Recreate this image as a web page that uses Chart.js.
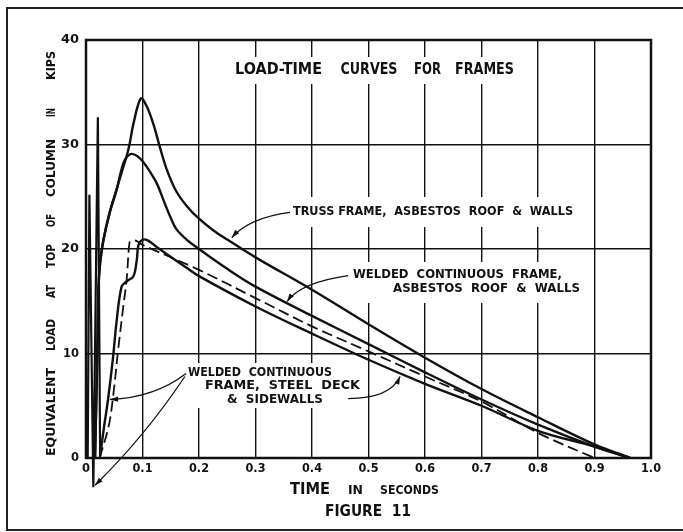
<!DOCTYPE html>
<html>
<head>
<meta charset="utf-8">
<script src="https://cdn.jsdelivr.net/npm/chart.js@4.4.1/dist/chart.umd.min.js"></script>
<style>
  html, body { margin: 0; padding: 0; background: #fff; overflow: hidden; }
  canvas { display: block; background: #fff; }
</style>
</head>
<body>
<canvas id="fig" width="683" height="532"></canvas>
<script>
// Load-time curves for frames (Figure 11)

// axes
const X_TICKS = [0, 0.1, 0.2, 0.3, 0.4, 0.5, 0.6, 0.7, 0.8, 0.9, 1.0];
const X_TICK_LABELS = ['0', '0.1', '0.2', '0.3', '0.4', '0.5', '0.6', '0.7', '0.8', '0.9', '1.0'];
const Y_TICKS = [0, 10, 20, 30, 40];
const Y_TICK_LABELS = ['0', '10', '20', '30', '40'];

// initial oscillation at the start of the record
const SPIKE_T    = [0.003, 0.006, 0.013, 0.021, 0.025];
const SPIKE_LOAD = [0, 25.2, -2.8, 32.6, 0.2];

// truss frame, asbestos roof & walls
const TRUSS_T    = [0.016, 0.020, 0.022, 0.025, 0.031, 0.042, 0.054, 0.063, 0.072, 0.077, 0.084, 0.097, 0.107, 0.119, 0.131, 0.143, 0.160, 0.180, 0.200, 0.225, 0.250, 0.300, 0.400, 0.500, 0.600, 0.700, 0.800, 0.900, 0.963];
const TRUSS_LOAD = [0, 10, 16.1, 18.7, 20.9, 23.5, 25.7, 27.3, 28.9, 30.0, 32.0, 34.4, 33.7, 32.0, 29.7, 27.6, 25.5, 24.0, 22.9, 21.8, 20.9, 19.2, 16.1, 12.8, 9.6, 6.6, 3.9, 1.3, 0];

// welded continuous frame, asbestos roof & walls
const ASB_T    = [0.016, 0.020, 0.022, 0.025, 0.031, 0.042, 0.054, 0.060, 0.066, 0.072, 0.081, 0.095, 0.107, 0.125, 0.137, 0.149, 0.160, 0.178, 0.200, 0.250, 0.300, 0.400, 0.500, 0.600, 0.700, 0.800, 0.900, 0.963];
const ASB_LOAD = [0, 10, 16.1, 18.7, 20.9, 23.5, 25.6, 27.0, 28.2, 28.8, 29.1, 28.7, 27.9, 26.3, 24.7, 23.1, 21.9, 20.9, 20.0, 18.1, 16.4, 13.6, 10.9, 8.2, 5.6, 3.2, 1.1, 0];

// welded continuous frame, steel deck & sidewalls
const DECK_T    = [0.025, 0.032, 0.039, 0.048, 0.054, 0.063, 0.072, 0.084, 0.090, 0.093, 0.101, 0.110, 0.125, 0.178, 0.200, 0.300, 0.400, 0.500, 0.600, 0.700, 0.800, 0.900, 0.963];
const DECK_LOAD = [0.2, 3.0, 5.6, 9.7, 13.0, 16.4, 16.9, 17.4, 19.0, 20.4, 20.9, 20.8, 20.2, 18.2, 17.4, 14.5, 11.9, 9.4, 7.1, 5.0, 2.6, 1.1, 0];

// dashed curve
const DASH_T    = [0.024, 0.040, 0.048, 0.057, 0.066, 0.072, 0.077, 0.081, 0.088, 0.100, 0.200, 0.300, 0.400, 0.500, 0.600, 0.700, 0.800, 0.900];
const DASH_LOAD = [0, 3.0, 5.9, 10.4, 14.5, 17.1, 20.6, 20.8, 20.8, 20.4, 18.0, 15.3, 12.6, 10.2, 7.8, 5.4, 2.4, 0];

// leader lines: [from, control, to] in data units (seconds, kips)
const LEADERS = [
  [[0.361, 23.5], [0.290, 23.0], [0.258, 21.1]],
  [[0.464, 17.46], [0.379, 16.8], [0.356, 14.98]],
  [[0.177, 8.09], [0.122, 5.79], [0.0425, 5.6]],
  [[0.175, 7.8], [0.104, 2.06], [0.016, -2.6]],
  [[0.464, 5.69], [0.538, 5.69], [0.556, 7.8]]
];

function pts(xs, ys) {
  return xs.map(function(x, i) { return { x: x, y: ys[i] }; });
}

var INK = '#111';
var FONT = '"DejaVu Sans", sans-serif';

// draw text squeezed/stretched to a given width (lettering-guide look)
function fitText(ctx, text, cx, cy, w, size, rotate) {
  ctx.save();
  ctx.font = 'bold ' + size + 'px ' + FONT;
  ctx.textAlign = 'center';
  ctx.textBaseline = 'middle';
  var m = ctx.measureText(text).width;
  ctx.translate(cx, cy);
  if (rotate) ctx.rotate(-Math.PI / 2);
  ctx.scale(w / m, 1);
  ctx.fillStyle = INK;
  ctx.fillText(text, 0, 0);
  ctx.restore();
}

var paperPlugin = {
  id: 'paper',
  beforeDatasetsDraw: function(chart) {
    var ctx = chart.ctx, a = chart.chartArea;
    ctx.save();
    // white patches where the lettering breaks the grid
    ctx.fillStyle = '#fff';
    ctx.fillRect(228, 57, 293, 27);
    ctx.fillRect(286, 197, 294, 30);
    ctx.fillRect(346, 262, 241, 41);
    ctx.fillRect(181, 363, 185, 45);
    // heavy plot border
    ctx.strokeStyle = INK;
    ctx.lineWidth = 2.5;
    ctx.strokeRect(a.left, a.top, a.right - a.left, a.bottom - a.top);
    ctx.restore();
  },
  afterDatasetsDraw: function(chart) {
    var ctx = chart.ctx;
    var xs = chart.scales.x, ys = chart.scales.y;

    // outer figure frame
    ctx.save();
    ctx.strokeStyle = '#222';
    ctx.lineWidth = 2;
    ctx.beginPath();
    ctx.moveTo(690, 8); ctx.lineTo(7, 8); ctx.lineTo(7, 530); ctx.lineTo(690, 530);
    ctx.stroke();
    ctx.restore();

    // tick labels
    X_TICKS.forEach(function(v, i) {
      var lab = X_TICK_LABELS[i];
      fitText(ctx, lab, xs.getPixelForValue(v), 469, lab.length === 1 ? 8 : 20, 12);
    });
    Y_TICKS.forEach(function(v, i) {
      var lab = Y_TICK_LABELS[i];
      var w = lab.length === 1 ? 8 : (lab === '10' ? 16 : 18);
      fitText(ctx, lab, 79 - w / 2, ys.getPixelForValue(v), w, 13);
    });

    // title
    fitText(ctx, 'LOAD-TIME', 278.5, 70, 87, 16);
    fitText(ctx, 'CURVES', 369, 70, 57, 16);
    fitText(ctx, 'FOR', 427.5, 70, 27, 16);
    fitText(ctx, 'FRAMES', 484.5, 70, 59, 16);

    // curve labels
    fitText(ctx, 'TRUSS FRAME,  ASBESTOS  ROOF  &  WALLS', 433, 212, 280, 13);
    fitText(ctx, 'WELDED  CONTINUOUS  FRAME,', 457.5, 275, 209, 13);
    fitText(ctx, 'ASBESTOS  ROOF  &  WALLS', 486.5, 289, 187, 13);
    fitText(ctx, 'WELDED  CONTINUOUS', 260, 373, 144, 13);
    fitText(ctx, 'FRAME,  STEEL  DECK', 282.5, 386, 155, 13);
    fitText(ctx, '&  SIDEWALLS', 275, 400, 96, 13);

    // axis titles
    fitText(ctx, 'TIME', 310, 490, 40, 16);
    fitText(ctx, 'IN', 355.5, 491, 15, 13);
    fitText(ctx, 'SECONDS', 409.5, 491, 59, 13);
    fitText(ctx, 'FIGURE  11', 368, 512, 86, 16);

    var yWords = [
      ['EQUIVALENT', 412, 88], ['LOAD', 335, 32], ['AT', 291.5, 13], ['TOP', 256, 24],
      ['OF', 220.5, 13], ['COLUMN', 168, 58], ['IN', 112.5, 9], ['KIPS', 65.5, 29]
    ];
    yWords.forEach(function(wd) { fitText(ctx, wd[0], 52, wd[1], wd[2], 13, true); });

    // leader arrows
    ctx.save();
    ctx.strokeStyle = INK;
    ctx.fillStyle = INK;
    ctx.lineWidth = 1.3;
    LEADERS.forEach(function(L) {
      var p0 = [xs.getPixelForValue(L[0][0]), ys.getPixelForValue(L[0][1])];
      var pc = [xs.getPixelForValue(L[1][0]), ys.getPixelForValue(L[1][1])];
      var p1 = [xs.getPixelForValue(L[2][0]), ys.getPixelForValue(L[2][1])];
      ctx.beginPath();
      ctx.moveTo(p0[0], p0[1]);
      ctx.quadraticCurveTo(pc[0], pc[1], p1[0], p1[1]);
      ctx.stroke();
      var ang = Math.atan2(p1[1] - pc[1], p1[0] - pc[0]);
      var len = 8, hw = 2.6;
      ctx.beginPath();
      ctx.moveTo(p1[0], p1[1]);
      ctx.lineTo(p1[0] - len * Math.cos(ang) + hw * Math.sin(ang), p1[1] - len * Math.sin(ang) - hw * Math.cos(ang));
      ctx.lineTo(p1[0] - len * Math.cos(ang) - hw * Math.sin(ang), p1[1] - len * Math.sin(ang) + hw * Math.cos(ang));
      ctx.closePath();
      ctx.fill();
    });
    ctx.restore();
  }
};

var curve = {
  borderColor: INK,
  borderWidth: 2.4,
  pointRadius: 0,
  fill: false,
  tension: 0.35
};

new Chart(document.getElementById('fig').getContext('2d'), {
  type: 'line',
  data: {
    datasets: [
      Object.assign({}, curve, { data: pts(SPIKE_T, SPIKE_LOAD), tension: 0, borderWidth: 2.2, clip: false }),
      Object.assign({}, curve, { data: pts(TRUSS_T, TRUSS_LOAD) }),
      Object.assign({}, curve, { data: pts(ASB_T, ASB_LOAD) }),
      Object.assign({}, curve, { data: pts(DECK_T, DECK_LOAD) }),
      Object.assign({}, curve, { data: pts(DASH_T, DASH_LOAD), borderWidth: 1.8, borderDash: [11, 5] })
    ]
  },
  options: {
    responsive: false,
    animation: false,
    events: [],
    layout: { padding: { left: 86, right: 32, top: 40, bottom: 74 } },
    plugins: { legend: { display: false }, tooltip: { enabled: false } },
    scales: {
      x: {
        type: 'linear', min: 0, max: 1,
        ticks: { display: false, stepSize: 0.1 },
        grid: { color: INK, lineWidth: 1.4, drawTicks: false },
        border: { display: false }
      },
      y: {
        type: 'linear', min: 0, max: 40,
        ticks: { display: false, stepSize: 10 },
        grid: { color: INK, lineWidth: 1.4, drawTicks: false },
        border: { display: false }
      }
    }
  },
  plugins: [paperPlugin]
});
</script>
</body>
</html>
